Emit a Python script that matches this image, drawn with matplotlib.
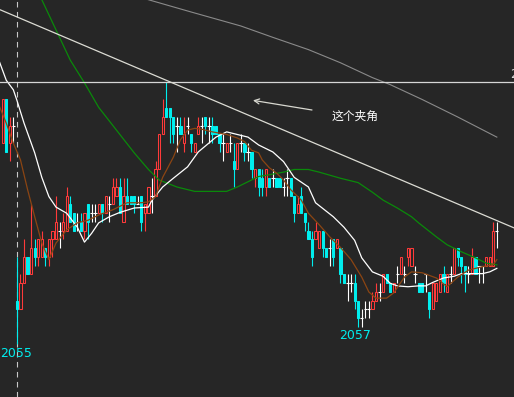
import numpy as np
import matplotlib.pyplot as plt

plt.rcParams['font.family'] = ['Noto Sans CJK SC', 'DejaVu Sans']

# candle data, left to right (price ticks)
opens = [2078, 2083, 2078, 2080, 2060, 2059, 2062, 2065, 2063, 2066,
         2065, 2065, 2066, 2065, 2067, 2067, 2068, 2068, 2068, 2071,
         2070, 2069, 2069, 2068, 2071, 2070, 2070, 2070, 2071, 2070,
         2071, 2071, 2072, 2073, 2069, 2072, 2072, 2072, 2071, 2072,
         2070, 2070, 2072, 2072, 2075, 2079, 2082, 2082,
         2081, 2080, 2080, 2078, 2080, 2079, 2077, 2079, 2080, 2081,
         2080, 2080, 2080, 2079, 2078, 2077, 2078, 2076, 2075, 2078,
         2078, 2077, 2077,
         2074, 2075, 2074, 2073, 2074, 2074, 2074, 2074, 2073, 2074,
         2074, 2072, 2070, 2072, 2070, 2068, 2067, 2067, 2066, 2068,
         2066, 2066, 2067, 2066, 2066,
         2063, 2062, 2062, 2062, 2060, 2058, 2059, 2059, 2059, 2060,
         2061, 2061, 2063, 2062, 2061, 2063, 2063, 2063, 2065, 2064,
         2063, 2062, 2062, 2063, 2061, 2059, 2060, 2061, 2063, 2061,
         2063, 2063, 2066, 2065, 2064, 2063, 2063, 2065, 2064, 2064,
         2064, 2064, 2064, 2068]
highs = [2083, 2083, 2081, 2081, 2065, 2063, 2067, 2065, 2071, 2067,
         2067, 2068, 2066, 2067, 2068, 2072, 2069, 2070, 2073, 2072,
         2070, 2070, 2070, 2070, 2071, 2071, 2071, 2071, 2071, 2072,
         2072, 2074, 2074, 2074, 2074, 2074, 2072, 2072, 2072, 2072,
         2071, 2073, 2074, 2076, 2079, 2083, 2085, 2082,
         2081, 2081, 2081, 2081, 2081, 2079, 2078, 2081, 2081, 2081,
         2081, 2081, 2080, 2079, 2079, 2078, 2079, 2078, 2078, 2079,
         2078, 2078, 2077,
         2075, 2075, 2075, 2075, 2074, 2075, 2074, 2074, 2074, 2075,
         2074, 2072, 2072, 2073, 2070, 2069, 2068, 2069, 2068, 2068,
         2066, 2067, 2067, 2067, 2066,
         2063, 2063, 2063, 2063, 2060, 2059, 2060, 2060, 2061, 2062,
         2062, 2063, 2063, 2062, 2062, 2064, 2065, 2064, 2066, 2066,
         2064, 2062, 2062, 2063, 2061, 2062, 2062, 2063, 2064, 2063,
         2064, 2066, 2066, 2065, 2064, 2064, 2066, 2065, 2064, 2064,
         2065, 2065, 2069, 2069]
lows = [2078, 2077, 2076, 2078, 2055, 2059, 2062, 2063, 2063, 2064,
        2064, 2065, 2064, 2064, 2065, 2067, 2066, 2067, 2068, 2069,
        2068, 2068, 2068, 2067, 2067, 2069, 2069, 2070, 2069, 2070,
        2069, 2071, 2072, 2070, 2069, 2071, 2071, 2070, 2071, 2068,
        2068, 2070, 2070, 2072, 2075, 2079, 2081, 2078,
        2078, 2077, 2079, 2077, 2079, 2077, 2077, 2079, 2078, 2079,
        2078, 2078, 2079, 2077, 2076, 2077, 2077, 2073, 2075, 2077,
        2076, 2076, 2074,
        2073, 2072, 2072, 2072, 2073, 2073, 2073, 2073, 2072, 2072,
        2072, 2069, 2070, 2070, 2068, 2067, 2064, 2067, 2066, 2065,
        2065, 2064, 2064, 2066, 2062,
        2062, 2060, 2061, 2059, 2057, 2057, 2058, 2058, 2059, 2060,
        2060, 2061, 2062, 2061, 2061, 2062, 2063, 2062, 2064, 2064,
        2062, 2061, 2061, 2061, 2058, 2059, 2060, 2061, 2061, 2061,
        2062, 2063, 2064, 2062, 2061, 2062, 2063, 2063, 2062, 2062,
        2064, 2064, 2064, 2066]
closes = [2083, 2077, 2080, 2080, 2059, 2062, 2065, 2063, 2066, 2065,
          2067, 2067, 2065, 2067, 2068, 2069, 2068, 2069, 2072, 2069,
          2068, 2069, 2068, 2070, 2069, 2070, 2070, 2071, 2070, 2072,
          2071, 2073, 2073, 2070, 2072, 2071, 2071, 2071, 2071, 2069,
          2071, 2073, 2072, 2075, 2079, 2081, 2081, 2081,
          2079, 2080, 2079, 2079, 2080, 2078, 2078, 2080, 2080, 2080,
          2080, 2079, 2079, 2078, 2078, 2078, 2078, 2075, 2078, 2078,
          2077, 2077, 2075,
          2075, 2073, 2073, 2075, 2073, 2074, 2073, 2073, 2073, 2074,
          2072, 2070, 2071, 2070, 2069, 2067, 2065, 2068, 2068, 2066,
          2065, 2066, 2065, 2067, 2063,
          2062, 2062, 2062, 2060, 2058, 2058, 2059, 2059, 2060, 2061,
          2061, 2063, 2062, 2061, 2062, 2063, 2065, 2063, 2066, 2066,
          2063, 2061, 2061, 2063, 2059, 2062, 2062, 2063, 2062, 2063,
          2063, 2066, 2065, 2064, 2063, 2063, 2065, 2063, 2064, 2064,
          2065, 2065, 2068, 2068]

# moving average lines (bar index, price)
ma_fast_x = [-1, 1, 3, 5, 7, 9, 11, 13, 15, 18, 21, 24, 27, 31, 35, 39, 41, 43, 45, 48,
             50, 52, 54, 56, 59, 63, 66, 68, 70, 72, 73, 75, 77, 79, 81, 84, 86, 89, 92, 95,
             98, 101, 103, 105, 108, 110, 113, 115, 118, 122, 125, 128, 131, 135, 138, 139]
ma_fast_y = [2082.3, 2080.3, 2078.0, 2076.1, 2072.7, 2069.6, 2066.6, 2064.7, 2066.6, 2068.1,
             2068.9, 2069.2, 2069.8, 2070.4, 2071.2, 2071.2, 2071.3, 2071.9, 2074.1, 2076.4,
             2078.4, 2079.5, 2079.7, 2079.6, 2079.3, 2079.0, 2078.6, 2078.2, 2077.2, 2076.9,
             2076.1, 2075.2, 2074.6, 2073.8, 2072.7, 2071.5, 2070.0, 2068.7, 2067.3, 2066.1,
             2064.7, 2062.7, 2061.0, 2060.3, 2060.3, 2060.9, 2062.7, 2063.3, 2063.2, 2062.6,
             2061.6, 2062.7, 2063.5, 2063.9, 2064.1, 2064.7]
ma_mid_x = [-1, 1, 3, 4, 6, 9, 11, 13, 15, 18, 21, 23, 25, 27, 30, 33, 37, 41, 42, 45,
            48, 52, 55, 60, 63, 66, 69, 72, 76, 79, 82, 86, 88, 93, 96, 99, 101, 104, 107, 109,
            111, 114, 117, 119, 121, 124, 127, 129, 135, 137, 139]
ma_mid_y = [2087.4, 2085.2, 2084.1, 2082.9, 2080.3, 2076.9, 2074.1, 2071.9, 2070.7, 2070.0,
            2068.4, 2066.7, 2067.7, 2068.9, 2069.6, 2070.1, 2070.6, 2070.7, 2071.5, 2073.0,
            2074.0, 2075.3, 2077.0, 2078.7, 2079.3, 2079.0, 2078.7, 2077.8, 2077.0, 2075.9,
            2074.1, 2073.0, 2071.2, 2069.6, 2068.4, 2066.9, 2064.9, 2063.3, 2062.8, 2062.0,
            2061.7, 2061.6, 2061.7, 2061.7, 2062.1, 2062.6, 2062.8, 2063.1, 2063.1, 2063.3,
            2063.7]
ma_slow_x = [9, 11, 19, 23, 27, 32, 37, 41, 44, 49, 54, 63, 66, 70, 72, 75, 79, 82, 86, 89,
             95, 100, 104, 107, 111, 115, 117, 122, 125, 129, 133, 136, 139]
ma_slow_y = [2096.6, 2094.4, 2087.5, 2084.9, 2082.1, 2079.5, 2076.9, 2075.0, 2073.8, 2073.0,
             2072.5, 2072.5, 2073.0, 2073.8, 2074.2, 2074.4, 2074.7, 2075.0, 2075.0, 2074.7,
             2074.0, 2073.5, 2072.4, 2071.5, 2070.6, 2069.6, 2068.9, 2067.3, 2066.4, 2065.6,
             2064.9, 2064.3, 2064.1]
ma_long_x = [37, 41, 53, 67, 76, 86, 95, 104, 109, 118, 128, 139]
ma_long_y = [2094.9, 2094.4, 2093.0, 2091.4, 2090.1, 2088.7, 2087.2, 2085.5, 2084.7, 2083.0,
             2081.0, 2078.7]

# drawn lines and notes
trend_x = [-1, 144]
trend_y = [2093.3, 2068.3]
level = 2085
cursor_bar = 4
arrow_from = (87, 2081.8)
arrow_to = (70.4, 2082.9)
note = '这个夹角'
low_marks = [(4, '2055'), (100, '2057')]

BG = '#262626'
RED = '#ff3a3a'
CYAN = '#00eeee'

fig = plt.figure(figsize=(5.14, 3.97), dpi=100)
fig.patch.set_facecolor(BG)
ax = fig.add_axes([0, 0, 1, 1])
ax.set_facecolor(BG)
ax.set_axis_off()

o = np.array(opens)
h = np.array(highs)
l = np.array(lows)
c = np.array(closes)
x = np.arange(len(o))
up = c > o
dn = c < o
fl = c == o
w = 0.62

# wicks
ax.vlines(x[up], l[up], h[up], color=RED, lw=0.8, zorder=2)
ax.vlines(x[dn], l[dn], h[dn], color=CYAN, lw=0.8, zorder=2)
ax.vlines(x[fl], l[fl], h[fl], color='white', lw=0.8, zorder=2)
# bodies
ax.bar(x[up], (c - o)[up], bottom=o[up], width=w, color=BG, edgecolor=RED, linewidth=0.75, zorder=3)
ax.bar(x[dn], (o - c)[dn], bottom=c[dn], width=w, color=CYAN, edgecolor=CYAN, linewidth=0.75, zorder=3)
ax.hlines(c[fl], x[fl] - w / 2 - 0.15, x[fl] + w / 2 + 0.15, color='white', lw=0.8, zorder=3)

# averages
ax.plot(ma_long_x, ma_long_y, color='#8a8a8a', lw=0.8, zorder=4)
ax.plot(ma_slow_x, ma_slow_y, color='#0a8a0a', lw=0.9, zorder=4)
ax.plot(ma_mid_x, ma_mid_y, color='white', lw=0.9, zorder=5)
ax.plot(ma_fast_x, ma_fast_y, color='#8b4513', lw=0.9, zorder=5)

ax.axvline(cursor_bar, color='#c8c8c8', lw=0.8, ls=(0, (5, 4)), zorder=1)
ax.axhline(level, color='#d6d6d6', lw=0.9, zorder=6)
ax.plot(trend_x, trend_y, color='#dcdcd4', lw=0.9, zorder=6)

ax.annotate('', xy=arrow_to, xytext=arrow_from,
            arrowprops=dict(arrowstyle='->', color='#d8d8d0', lw=0.9, mutation_scale=9,
                            shrinkA=0, shrinkB=0), zorder=7)
ax.text(99.1, 2081.1, note, color='white', fontsize=8.5, ha='center', va='center', zorder=7)

lbl_font = ['Liberation Sans Narrow', 'DejaVu Sans']
ax.text(-0.6, lows[4] - 1.0, low_marks[0][1], color=CYAN, fontsize=9,
        family=lbl_font, ha='left', va='center', zorder=7)
ax.text(low_marks[1][0] - 0.8, lows[low_marks[1][0]] - 1.0, low_marks[1][1], color=CYAN,
        fontsize=9, family=lbl_font, ha='center', va='center', zorder=7)
ax.text(142.7, level + 0.9, str(level), color='#dcdcdc', fontsize=9,
        family=lbl_font, ha='left', va='center', zorder=7)

ax.set_xlim(-0.76, 143.83)
ax.set_ylim(2049.0, 2094.37)

fig.savefig('out.png', dpi=100, facecolor=BG)
